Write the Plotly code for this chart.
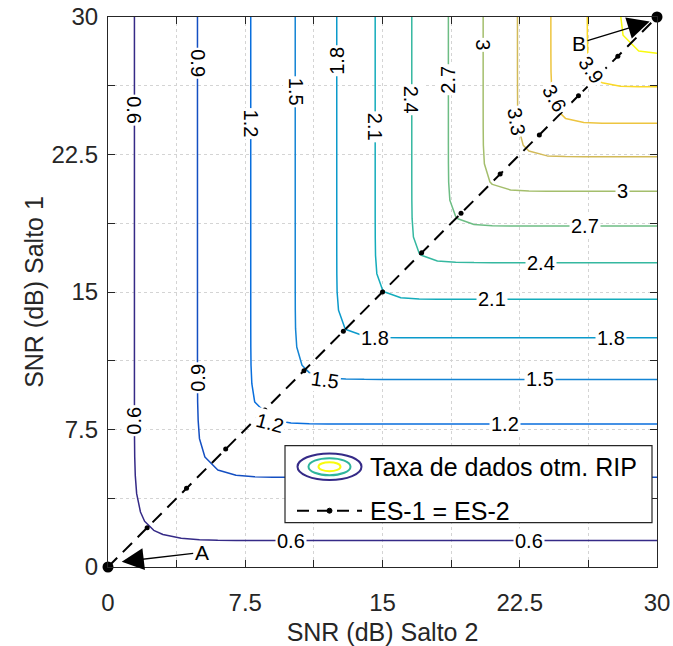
import numpy as np
import plotly.graph_objects as go

# ---- data ----
snr_db = [0, 1, 2, 3, 4, 5, 6, 7, 8, 9, 10, 11, 12, 13, 14, 15, 16, 17, 18, 19,
          20, 21, 22, 23, 24, 25, 26, 27, 28, 29, 30]
# optimum RIP data rate vs. SNR of one hop when the other hop is strong
rate_profile = [0.49, 0.56, 0.65, 0.73, 0.82, 0.91, 1.01, 1.12, 1.22, 1.35, 1.47,
                1.60, 1.73, 1.87, 2.01, 2.16, 2.31, 2.46, 2.61, 2.76, 2.92, 3.08,
                3.24, 3.40, 3.57, 3.72, 3.87, 4.03, 4.20, 4.36, 4.52]
coupling_temp = 0.095          # smooth-min width near ES-1 = ES-2 (dip ~0.065)
level_start, level_end, level_step = 0.6, 4.2, 0.3

# contour labels: text, SNR hop 2, SNR hop 1, rotation (deg, clockwise)
label_text = ["0.6", "0.9", "1.2", "1.5", "1.8", "2.1", "2.4", "2.7", "3",
              "3.3", "3.6", "3.9",
              "0.9", "0.6",
              "0.6", "0.6", "1.2", "1.2", "1.5", "1.5", "1.8", "1.8",
              "2.1", "2.4", "2.7", "3"]
label_x = [1.44, 4.95, 7.8, 10.24, 12.5, 14.6, 16.6, 18.6, 20.5,
           22.35, 24.4, 26.4,
           4.95, 1.44,
           10.0, 23.0, 8.85, 21.7, 11.85, 23.6, 14.6, 27.5,
           21.0, 23.66, 26.07, 28.1]
label_y = [24.9, 27.5, 24.2, 25.9, 27.6, 24.0, 25.5, 26.6, 28.5,
           24.3, 25.6, 27.1,
           10.3, 8.0,
           1.44, 1.44, 7.85, 7.8, 10.2, 10.24, 12.5, 12.5,
           14.6, 16.6, 18.6, 20.5]
label_angle = [90, 90, 90, 90, -90, 90, 90, -90, 90,
               80, 60, 55,
               -90, -90,
               0, 0, 15, 0, 8, 0, 0, 0,
               0, 0, 0, 0]

diag_snr = [0, 2.14, 4.29, 6.43, 8.57, 10.71, 12.86, 15, 17.14, 19.29, 21.43,
            23.57, 25.71, 27.86, 30]
end_points = [0, 30]

tick_vals = [0, 3.75, 7.5, 11.25, 15, 18.75, 22.5, 26.25, 30]
tick_text = ["0", "", "7.5", "", "15", "", "22.5", "", "30"]

label_A = dict(text="A", head=(0.75, 0.29), tail=(5.12, 0.80))
label_B = dict(text="B", head=(29.6, 29.75), tail=(25.74, 28.57))

# ---- table for the contour trace ----
g = np.array(rate_profile)
T = coupling_temp
Z = -T * np.logaddexp(-g[:, None] / T, -g[None, :] / T)

parula = [
    [0 / 63, "#352a87"], [8 / 63, "#0363e1"], [16 / 63, "#1485d4"],
    [24 / 63, "#06a7c6"], [32 / 63, "#38b99e"], [40 / 63, "#92bf73"],
    [48 / 63, "#d9ba56"], [56 / 63, "#fcce2e"], [1.0, "#f9fb0e"],
]

FONT = "Liberation Sans, Arial, Helvetica, sans-serif"
INK = "#262626"

fig = go.Figure()
fig.add_trace(go.Contour(
    x=snr_db, y=snr_db, z=Z,
    autocontour=False,
    contours=dict(start=level_start, end=level_end + 0.01, size=level_step,
                  coloring="lines", showlabels=False),
    line=dict(width=1.5, smoothing=0),
    colorscale=parula, zmin=level_start, zmax=level_end,
    showscale=False, hoverinfo="skip",
))

fig.add_trace(go.Scatter(
    x=diag_snr, y=diag_snr, mode="lines+markers",
    line=dict(color="black", width=2, dash="13px,8px"),
    marker=dict(color="black", size=5),
    cliponaxis=False, hoverinfo="skip",
))
fig.add_trace(go.Scatter(
    x=end_points, y=end_points, mode="markers",
    marker=dict(color="black", size=11),
    cliponaxis=False, hoverinfo="skip",
))

for t, x, y, a in zip(label_text, label_x, label_y, label_angle):
    fig.add_annotation(x=x, y=y, xref="x", yref="y", text=t, showarrow=False,
                       textangle=a, bgcolor="white", borderpad=1,
                       font=dict(size=20, color="black", family=FONT))

for lab in (label_A, label_B):
    fig.add_annotation(
        x=lab["head"][0], y=lab["head"][1], ax=lab["tail"][0], ay=lab["tail"][1],
        xref="x", yref="y", axref="x", ayref="y",
        text=lab["text"], showarrow=True, arrowhead=2, arrowsize=3.4,
        arrowwidth=1.3, arrowcolor="black",
        font=dict(size=21, color="black", family=FONT),
    )

axis_common = dict(
    range=[0, 30], tickvals=tick_vals, ticktext=tick_text,
    ticks="inside", ticklen=7, tickwidth=1, tickcolor=INK,
    showline=True, linecolor=INK, linewidth=1.2, mirror="ticks",
    showgrid=True, gridcolor="#d4d4d4", gridwidth=1, griddash="dot",
    zeroline=False, tickfont=dict(size=24, color=INK, family=FONT),
    fixedrange=True, automargin=False,
)
fig.update_xaxes(**axis_common, ticklabelstandoff=14,
                 title=dict(text="SNR (dB) Salto 2", standoff=8,
                            font=dict(size=25, color=INK, family=FONT)))
fig.update_yaxes(**axis_common, ticklabelstandoff=4,
                 title=dict(text="SNR (dB) Salto 1", standoff=0,
                            font=dict(size=25, color=INK, family=FONT)))

# ---- hand-drawn legend (paper coordinates of the plot area) ----
def px(xp):
    return (xp - 108) / 549.0

def py(yp):
    return (567 - yp) / 550.0

shapes = [
    dict(type="rect", xref="paper", yref="paper", x0=px(285), x1=px(652),
         y0=py(522.7), y1=py(445.7), line=dict(color=INK, width=1.2),
         fillcolor="white", layer="above"),
]
cx, cy = 329.5, 466.7
for (hw, hh, col) in [(32, 13.3, "#352a87"), (21, 8.5, "#2fb59c"), (11, 4.5, "#f9fb0e")]:
    shapes.append(dict(type="circle", xref="paper", yref="paper",
                       x0=px(cx - hw), x1=px(cx + hw), y0=py(cy + hh), y1=py(cy - hh),
                       line=dict(color=col, width=2), layer="above"))
ly = 510.7
shapes.append(dict(type="line", xref="paper", yref="paper", x0=px(297), x1=px(362),
                   y0=py(ly), y1=py(ly), line=dict(color="black", width=2, dash="12px,8px"),
                   layer="above"))
shapes.append(dict(type="circle", xref="paper", yref="paper",
                   x0=px(cx - 2.5), x1=px(cx + 2.5), y0=py(ly + 2.5), y1=py(ly - 2.5),
                   fillcolor="black", line=dict(color="black", width=1), layer="above"))
fig.update_layout(shapes=shapes)
for txt, yy in [("Taxa de dados otm. RIP", cy), ("ES-1 = ES-2", ly)]:
    fig.add_annotation(x=px(368), y=py(yy), xref="paper", yref="paper",
                       text=txt, showarrow=False, xanchor="left", yanchor="middle",
                       font=dict(size=25, color="black", family=FONT))

fig.update_layout(
    width=673, height=646,
    margin=dict(l=108, r=16, t=17, b=79),
    plot_bgcolor="white", paper_bgcolor="white",
    showlegend=False,
    font=dict(family=FONT, color=INK),
)

fig.write_html("out.html")
